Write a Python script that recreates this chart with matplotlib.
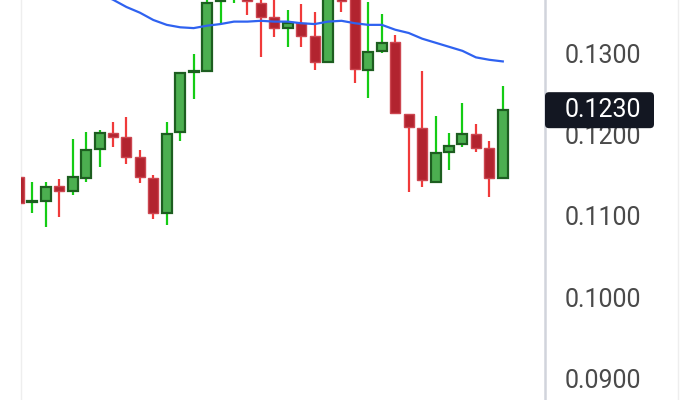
import numpy as np
import matplotlib
matplotlib.use("Agg")
import matplotlib.pyplot as plt
from matplotlib.patches import FancyBboxPatch
from matplotlib.lines import Line2D
from matplotlib.transforms import IdentityTransform

# daily candles, oldest first (some run above the visible window)
opens = [0.1148, 0.1117, 0.1118, 0.1137, 0.1131, 0.1147, 0.1182, 0.1202, 0.1197, 0.1172,
         0.1147, 0.1104, 0.1203, 0.1277, 0.1278, 0.1364, 0.1368, 0.1375, 0.1362, 0.1345,
         0.1331, 0.1337, 0.1321, 0.1289, 0.1378, 0.1372, 0.1279, 0.1303, 0.1314, 0.1225,
         0.1208, 0.1142, 0.1179, 0.1188, 0.1201, 0.1184, 0.1147]
highs = [0.1150, 0.1142, 0.1142, 0.1145, 0.1195, 0.1203, 0.1206, 0.1215, 0.1222, 0.1181,
         0.1150, 0.1215, 0.1276, 0.1299, 0.1370, 0.1380, 0.1385, 0.1382, 0.1372, 0.1368,
         0.1353, 0.1361, 0.1351, 0.1378, 0.1385, 0.1378, 0.1363, 0.1348, 0.1323, 0.1225,
         0.1278, 0.1223, 0.1202, 0.1239, 0.1213, 0.1192, 0.1260]
lows = [0.1112, 0.1104, 0.1086, 0.1099, 0.1126, 0.1142, 0.1160, 0.1185, 0.1164, 0.1140,
        0.1096, 0.1089, 0.1192, 0.1244, 0.1278, 0.1337, 0.1362, 0.1347, 0.1295, 0.1320,
        0.1308, 0.1308, 0.1279, 0.1289, 0.1351, 0.1263, 0.1245, 0.1300, 0.1227, 0.1129,
        0.1136, 0.1142, 0.1156, 0.1185, 0.1179, 0.1123, 0.1145]
closes = [0.1116, 0.1118, 0.1136, 0.1131, 0.1148, 0.1181, 0.1202, 0.1197, 0.1172, 0.1148,
          0.1104, 0.1201, 0.1276, 0.1278, 0.1362, 0.1372, 0.1380, 0.1364, 0.1345, 0.1331,
          0.1337, 0.1321, 0.1289, 0.1372, 0.1364, 0.1281, 0.1302, 0.1313, 0.1227, 0.1209,
          0.1144, 0.1177, 0.1186, 0.1201, 0.1184, 0.1147, 0.1230]

# moving average, starts at candle 5
ma_start = 5
ma = [0.1380, 0.1373, 0.1366, 0.1357, 0.1350, 0.1341, 0.1335, 0.1332, 0.1331, 0.1334,
      0.1336, 0.1339, 0.1339, 0.1340, 0.1339, 0.1339, 0.1337, 0.1336, 0.1339, 0.1340,
      0.1337, 0.1335, 0.1335, 0.1329, 0.1325, 0.1318, 0.1313, 0.1308, 0.1303, 0.1295,
      0.1292, 0.1290]

yticks = [0.09, 0.10, 0.11, 0.12, 0.13]

o = np.array(opens)
h = np.array(highs)
l = np.array(lows)
c = np.array(closes)
x = np.arange(len(o))
up = c >= o

fig = plt.figure(figsize=(7, 4), dpi=100)
ax = fig.add_axes([21 / 700, 0, 524 / 700, 1])

# wicks
ax.vlines(x[up], l[up], h[up], color="#14cc14", lw=1.6, zorder=2)
ax.vlines(x[~up], l[~up], h[~up], color="#f03a3a", lw=1.6, zorder=2)

# bodies
body_lo = np.minimum(o, c)
body_h = np.maximum(np.abs(c - o), 0.00005)
ax.bar(x[up], body_h[up], bottom=body_lo[up], width=0.74, color="#4caf50",
       edgecolor="#1d5e20", linewidth=1.6, zorder=3)
ax.bar(x[~up], body_h[~up], bottom=body_lo[~up], width=0.74, color="#b2242f",
       edgecolor="#cc4650", linewidth=1.0, zorder=3)

ax.plot(np.arange(ma_start, ma_start + len(ma)), ma, color="#2f62f0", lw=1.6, zorder=4)

ax.set_xlim(0.156, 39.14)
ax.set_ylim(0.08733, 0.13656)

for s in ["top", "bottom"]:
    ax.spines[s].set_visible(False)
ax.spines["left"].set_color("#eeeeee")
ax.spines["left"].set_linewidth(1)
ax.spines["right"].set_color("#d1d4dc")
ax.spines["right"].set_linewidth(1.8)
ax.set_xticks([])
ax.yaxis.tick_right()
ax.set_yticks(yticks)
ax.set_yticklabels(["%.4f" % v for v in yticks])
ax.tick_params(axis="y", length=0, pad=14.4, labelsize=18, labelcolor="#4a4a4a")
for t in ax.get_yticklabels():
    t.set_fontfamily("Roboto")

# faint border at far right
fig.add_artist(Line2D([678 / 700, 678 / 700], [0, 1], color="#eeeeee", lw=1,
                      transform=fig.transFigure))

# last price label
fig.canvas.draw()
px, py = ax.transData.transform((0, c[-1]))
x_axis = ax.transAxes.transform((1, 0))[0]
box = FancyBboxPatch((x_axis, py - 18), 109, 36, boxstyle="round,pad=0,rounding_size=4",
                     transform=IdentityTransform(), facecolor="#131722", edgecolor="none",
                     zorder=10)
fig.add_artist(box)
fig.text(x_axis + 20, py, "%.4f" % c[-1], transform=IdentityTransform(), color="white",
         fontsize=18, fontfamily="Roboto", va="center", ha="left", zorder=11)

fig.savefig("out.png", dpi=100)
